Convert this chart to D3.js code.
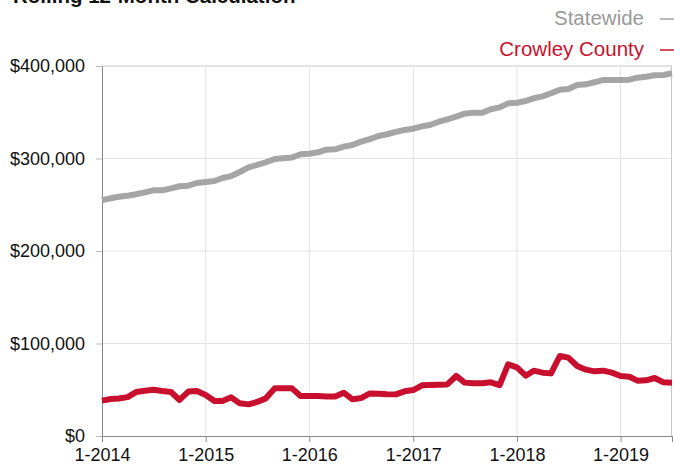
<!DOCTYPE html>
<html>
<head>
<meta charset="utf-8">
<script src="https://cdn.jsdelivr.net/npm/d3@7"></script>
<style>
   body { margin: 0; background: #fff; }
   svg { display: block; font-family: "Liberation Sans", Arial, sans-serif; }
</style>
</head>
<body>
<div id="chart"></div>
<script>

// MONTHLY VALUES, 1-2014 THROUGH 7-2019
var statewide = [
   255000, 257000, 258700, 259800, 261300, 263400, 265600, 265600, 267700, 270000, 270600, 273500,
   274600, 275700, 278900, 281000, 285400, 290500, 293000, 295900, 299500, 300200, 301000, 304600,
   305200, 306700, 309500, 309900, 312800, 314600, 318200, 321000, 324300, 326200, 328800, 330800,
   332200, 334800, 336200, 339800, 342400, 345200, 348500, 349500, 349500, 353200, 355300, 359600,
   360300, 362200, 365100, 367200, 370500, 374400, 375100, 379500, 380200, 382400, 384900, 384900,
   384900, 385200, 387400, 388400, 390000, 390300, 392100
];

var crowley = [
   38200, 40000, 40500, 42000, 47500, 49000, 50000, 48600, 47500, 39000, 48000, 48600,
   44300, 37800, 37800, 41800, 35300, 34200, 36800, 40700, 51500, 51500, 51500, 43200,
   43200, 43200, 42800, 42800, 46800, 39600, 41000, 46000, 45800, 45200, 45000, 48300,
   49700, 54800, 55100, 55500, 55800, 64900, 57700, 57000, 57000, 58000, 55000, 77500,
   74200, 65200, 70600, 68500, 67700, 86500, 84700, 75700, 71700, 69900, 70600, 68500,
   64900, 64100, 59800, 60200, 62700, 58000, 57700
];

var months = d3.timeMonth.range(new Date(2014, 0, 1), new Date(2019, 7, 1));
var yTicks = [0, 100000, 200000, 300000, 400000];
var xTicks = d3.timeYear.range(new Date(2014, 0, 1), new Date(2020, 0, 1));

var series = [
   { name: 'Statewide', values: statewide, color: '#a5a5a5', text: '#999999' },
   { name: 'Crowley County', values: crowley, color: '#c8102e', text: '#c8102e' }
];

// SETTINGS
var settings = {
   width: 674,
   height: 468,
   margin: { top: 66, right: 2, bottom: 32, left: 102 },
   stroke: 6
};

var innerW = settings.width - settings.margin.left - settings.margin.right;
var innerH = settings.height - settings.margin.top - settings.margin.bottom;

// SCALES
var xScale = d3.scaleTime()
   .domain([months[0], months[months.length - 1]])
   .range([0, innerW])

var yScale = d3.scaleLinear()
   .domain([0, 400000])
   .range([innerH, 0])

// CANVAS
var svg = d3.select('#chart').append('svg')
   .attr('width', settings.width)
   .attr('height', settings.height)

// TITLE (CUT OFF AT TOP, AS IN THE SOURCE)
svg.append('text')
   .attr('x', 13)
   .attr('y', 3)
   .attr('font-size', 20.5)
   .attr('font-weight', 'bold')
   .attr('fill', '#111')
   .text('Rolling 12-Month Calculation')

// LEGEND
series.forEach((s, i) => {
   var ly = 18 + i * 31;
   svg.append('text')
      .attr('x', 644)
      .attr('y', ly)
      .attr('dy', '0.35em')
      .attr('text-anchor', 'end')
      .attr('font-size', 20.5)
      .attr('fill', s.text)
      .text(s.name)
   svg.append('line')
      .attr('x1', 660).attr('x2', 674)
      .attr('y1', ly + 1).attr('y2', ly + 1)
      .attr('stroke', s.color)
      .attr('stroke-width', 1.5)
});

var g = svg.append('g')
   .attr('transform', 'translate(' + settings.margin.left + ',' + settings.margin.top + ')')

// GRIDLINES
g.append('g')
   .selectAll('line.hgrid')
   .data(yTicks.filter(d => d > 0))
   .enter().append('line')
      .attr('x1', 0).attr('x2', innerW)
      .attr('y1', d => yScale(d)).attr('y2', d => yScale(d))
      .attr('stroke', d => d === 400000 ? '#c8c8c8' : '#e3e3e3')
      .attr('stroke-width', 1)

g.append('g')
   .selectAll('line.vgrid')
   .data(xTicks.slice(1))
   .enter().append('line')
      .attr('x1', d => xScale(d)).attr('x2', d => xScale(d))
      .attr('y1', 0).attr('y2', innerH)
      .attr('stroke', '#e3e3e3')
      .attr('stroke-width', 1)

// RIGHT EDGE
g.append('line')
   .attr('x1', innerW - 0.5).attr('x2', innerW - 0.5)
   .attr('y1', 0).attr('y2', innerH)
   .attr('stroke', '#c8c8c8')

// Y-AXIS
var yAxis = d3.axisLeft(yScale)
   .tickValues(yTicks)
   .tickSize(6)
   .tickPadding(11)
   .tickFormat(d => '$' + d3.format(',')(d))

var yG = g.append('g').call(yAxis)
yG.select('.domain').attr('stroke', '#888')
yG.selectAll('.tick line').attr('stroke', '#bbb')
yG.selectAll('text').attr('font-size', 18).attr('fill', '#111').attr('font-family', null)

// X-AXIS
var xAxis = d3.axisBottom(xScale)
   .tickValues(xTicks.filter(d => d <= months[months.length - 1]))
   .tickSize(6)
   .tickPadding(6)
   .tickFormat(d3.timeFormat('%-m-%Y'))

var xG = g.append('g')
   .attr('transform', 'translate(0,' + innerH + ')')
   .call(xAxis)
xG.select('.domain').attr('stroke', '#888')
xG.selectAll('.tick line').attr('stroke', '#888')
xG.selectAll('text').attr('font-size', 18).attr('fill', '#111').attr('font-family', null)

// LINES
var pathify = d3.line()
   .x((d, i) => xScale(months[i]))
   .y(d => yScale(d))

series.forEach(s => {
   g.append('path')
      .attr('fill', 'none')
      .attr('stroke', s.color)
      .attr('stroke-width', settings.stroke)
      .attr('stroke-linejoin', 'round')
      .attr('d', pathify(s.values))
});

</script>
</body>
</html>
